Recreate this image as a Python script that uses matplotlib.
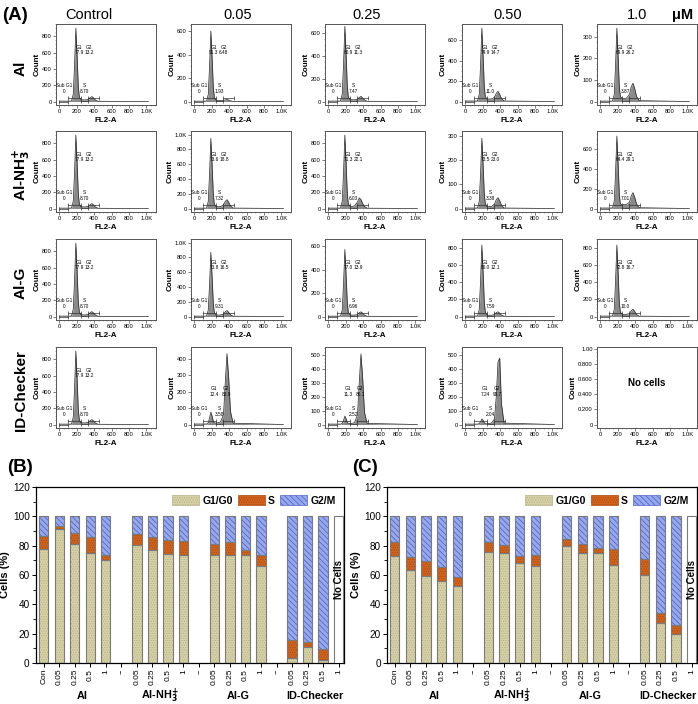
import numpy as np
import matplotlib
matplotlib.use('Agg')
import matplotlib.pyplot as plt
from matplotlib.patches import Patch
from matplotlib.ticker import MultipleLocator, AutoMinorLocator, FuncFormatter

W, H = 698, 704
plt.rcParams['font.family'] = ['Liberation Sans', 'DejaVu Sans']
plt.rcParams['hatch.linewidth'] = 0.6

# ---------------- (A) histogram data ----------------
ROW_NAMES = ['Al', 'Al-NH$_\\mathbf{3}^\\mathbf{+}$', 'Al-G', 'ID-Checker']
COL_NAMES = ['Control', '0.05', '0.25', '0.50', '1.0']

# FL2-A channel grid and counts
HIST_X = [0, 140, 160, 175, 190, 205, 218, 230, 250, 300, 335, 355, 375, 395, 415, 445, 1023]
CTRL = [5, 5, 90, 450, 900, 540, 180, 55, 20, 20, 25, 48, 60, 42, 18, 3, 0]
HIST_COUNTS = [
    [CTRL,
     [3, 3, 60, 300, 600, 360, 120, 36, 10, 8, 8, 14, 18, 12, 6, 1, 0],
     [4, 4, 66, 330, 660, 400, 130, 40, 15, 15, 20, 36, 45, 30, 14, 2, 0],
     [5, 5, 70, 360, 720, 430, 145, 45, 25, 25, 40, 80, 100, 70, 30, 5, 0],
     [2, 2, 34, 170, 340, 205, 70, 22, 15, 15, 34, 68, 85, 60, 25, 4, 0]],
    [CTRL,
     [5, 5, 95, 475, 950, 570, 190, 60, 25, 25, 48, 96, 120, 84, 36, 6, 0],
     [5, 5, 90, 450, 900, 540, 180, 55, 25, 30, 80, 130, 110, 60, 25, 4, 0],
     [2, 2, 29, 145, 290, 175, 58, 18, 8, 8, 18, 36, 45, 32, 14, 2, 0],
     [5, 5, 73, 365, 730, 440, 146, 45, 40, 40, 64, 128, 160, 112, 48, 8, 0]],
    [CTRL,
     [5, 5, 87, 435, 870, 520, 175, 52, 20, 20, 32, 64, 80, 56, 24, 4, 0],
     [3, 3, 57, 285, 570, 340, 115, 34, 12, 12, 16, 32, 40, 28, 12, 2, 0],
     [5, 5, 83, 415, 830, 500, 166, 50, 15, 15, 22, 44, 55, 38, 16, 3, 0],
     [5, 5, 83, 415, 830, 500, 166, 50, 25, 25, 34, 68, 85, 60, 25, 4, 0]],
    [CTRL,
     [3, 3, 10, 40, 75, 50, 20, 10, 8, 15, 60, 250, 430, 280, 80, 8, 0],
     [3, 3, 8, 30, 60, 40, 15, 8, 6, 12, 70, 300, 510, 330, 90, 8, 0],
     [3, 3, 6, 20, 40, 30, 12, 6, 5, 10, 40, 200, 450, 480, 150, 10, 0],
     None],
]
Y_TOP = [[950, 660, 680, 760, 360],
         [950, 1050, 950, 320, 780],
         [950, 1050, 660, 900, 900],
         [950, 470, 560, 560, 1.02]]
Y_STEP = [[200, 200, 200, 200, 100],
          [200, 200, 200, 100, 200],
          [200, 200, 200, 200, 200],
          [200, 100, 100, 100, 0.2]]

PCT_G1 = [['77.9', '91.3', '80.9', '74.9', '69.9'],
          ['77.9', '73.6', '71.3', '73.5', '64.4'],
          ['77.9', '73.8', '77.0', '80.0', '72.8'],
          ['77.9', '12.4', '11.3', '7.24', None]]
PCT_S = [['8.70', '1.93', '7.47', '11.0', '3.87'],
         ['8.70', '7.32', '6.03', '3.38', '7.01'],
         ['8.70', '9.31', '6.96', '7.59', '10.0'],
         ['8.70', '3.58', '2.52', '2.04', None]]
PCT_G2 = [['13.2', '6.48', '11.3', '14.7', '26.2'],
          ['13.2', '18.8', '22.1', '23.0', '29.1'],
          ['13.2', '16.5', '13.9', '12.1', '16.7'],
          ['13.2', '83.9', '86.1', '90.7', None]]

GATES = [(0, 100), (100, 250), (250, 330), (330, 460)]
GATE_Y = [0.04, 0.09, 0.05, 0.09]

# ---------------- (B)/(C) bar data ----------------
BAR_LABELS = ['Con', '0.05', '0.25', '0.5', '1', '--',
              '0.05', '0.25', '0.5', '1', '--',
              '0.05', '0.25', '0.5', '1', '--',
              '0.05', '0.25', '0.5', '1']
GROUPS = ['Al', 'Al-NH$_\\mathbf{3}^\\mathbf{+}$', 'Al-G', 'ID-Checker']
GROUP_POS = [2.5, 7.5, 12.5, 17.5]

G1_B = [77.9, 91.3, 80.9, 74.9, 69.9, None, 80.4, 77.1, 74.4, 73.6, None,
        73.8, 73.8, 73.8, 66.0, None, 3.3, 11.1, 1.8, None]
S_B = [8.7, 1.9, 7.5, 11.0, 3.9, None, 7.4, 9.1, 9.4, 9.7, None,
       7.3, 8.9, 3.5, 7.3, None, 12.7, 2.9, 7.5, None]
G2_B = [13.4, 6.8, 11.6, 14.1, 26.2, None, 12.2, 13.8, 16.2, 16.7, None,
        18.9, 17.3, 22.7, 26.7, None, 84.0, 86.0, 90.7, None]

G1_C = [72.9, 63.3, 59.1, 55.6, 52.4, None, 75.6, 75.1, 68.0, 65.8, None,
        80.0, 74.7, 74.7, 66.7, None, 60.0, 27.3, 20.0, None]
S_C = [9.5, 8.9, 10.2, 10.0, 6.0, None, 6.8, 5.3, 4.9, 7.8, None,
       4.7, 6.6, 3.7, 11.1, None, 11.1, 6.5, 5.8, None]
G2_C = [17.6, 27.8, 30.7, 34.4, 41.6, None, 17.6, 19.6, 27.1, 26.4, None,
        15.3, 18.7, 21.6, 22.2, None, 28.9, 66.2, 74.2, None]
NO_CELLS_POS = 19

PHASES = ['G1/G0', 'S', 'G2/M']
FACE = ['#d8d3a6', '#d2641c', '#96a9ee']
HATCH_COL = ['#b8b28a', '#b04c10', '#5466c8']
HATCHES = ['.......', '.......', '\\\\\\\\\\\\']


def px_box(x0, y0, w, h):
    return [x0 / W, 1 - (y0 + h) / H, w / W, h / H]


def count_fmt(v, _):
    if v >= 1000:
        return '1.0K'
    return f'{int(round(v))}'


def frac_fmt(v, _):
    if abs(v) < 1e-9:
        return '0'
    if abs(v - 1) < 1e-9:
        return '1.00'
    return f'{v:.3f}'


fig = plt.figure(figsize=(W / 100, H / 100), dpi=100)

COL_LEFT = [56, 191, 325, 462, 597]
ROW_TOP = [24, 131, 239, 347]
AX_W, AX_H = 100, 81

for r in range(4):
    for c in range(5):
        ax = fig.add_axes(px_box(COL_LEFT[c], ROW_TOP[r], AX_W, AX_H))
        top = Y_TOP[r][c]
        counts = HIST_COUNTS[r][c]
        ax.set_xlim(-38, 1110)
        ax.set_ylim(-0.045 * top, top)
        ax.xaxis.set_major_locator(MultipleLocator(200))
        ax.xaxis.set_minor_locator(AutoMinorLocator(4))
        ax.yaxis.set_major_locator(MultipleLocator(Y_STEP[r][c]))
        ax.yaxis.set_minor_locator(AutoMinorLocator(4))
        ax.xaxis.set_major_formatter(FuncFormatter(count_fmt))
        ax.yaxis.set_major_formatter(FuncFormatter(frac_fmt if counts is None else count_fmt))
        ax.tick_params(which='major', length=2, width=0.5, labelsize=4.2, pad=1, color='#444444')
        ax.tick_params(which='minor', length=1, width=0.4, color='#666666')
        for sp in ax.spines.values():
            sp.set_linewidth(0.7)
            sp.set_color('#555555')
        ax.set_xlabel('FL2-A', fontsize=5.8, fontweight='bold', labelpad=2)
        ax.set_ylabel('Count', fontsize=5.8, fontweight='bold', labelpad=1)

        if counts is None:
            ax.text(0.5, 0.55, 'No cells', transform=ax.transAxes, ha='center',
                    va='center', fontsize=7, fontweight='bold')
            continue

        ax.fill_between(HIST_X, counts, 0, color='#8a8a8a', lw=0)
        ax.plot(HIST_X, counts, color='#222222', lw=0.5)
        tr = ax.get_xaxis_transform()
        for (x0, x1), gy in zip(GATES, GATE_Y):
            ax.plot([x0, x1], [gy, gy], transform=tr, color='#333333', lw=0.5,
                    marker='|', ms=2.5, mew=0.5)

        id_row = r == 3 and c > 0
        upper = 0.45 if id_row else 0.68
        ax.text(60, 0.2, 'Sub G1\n0', transform=tr, fontsize=3.4, ha='center', va='center',
                linespacing=1.2)
        ax.text(290, 0.2, f'S\n{PCT_S[r][c]}', transform=tr, fontsize=3.4, ha='center',
                va='center', linespacing=1.2)
        ax.text(225, upper, f'G1\n{PCT_G1[r][c]}', transform=tr, fontsize=3.4, ha='center',
                va='center', linespacing=1.2)
        ax.text(365 if id_row else 340, upper, f'G2\n{PCT_G2[r][c]}',
                transform=tr, fontsize=3.4, ha='center', va='center', linespacing=1.2)

TITLE_X = [89, 238, 367, 508, 637]
for tx, name in zip(TITLE_X, COL_NAMES):
    fig.text(tx / W, 1 - 15 / H, name, ha='center', va='center', fontsize=10.5)
fig.text(683 / W, 1 - 15 / H, 'μM', ha='center', va='center', fontsize=10.5, fontweight='bold')
fig.text(15 / W, 1 - 15 / H, '(A)', ha='center', va='center', fontsize=13.5, fontweight='bold')

for r, name in enumerate(ROW_NAMES):
    fig.text(21 / W, 1 - (ROW_TOP[r] + 44) / H, name, rotation=90, ha='center',
             va='center', fontsize=11, fontweight='bold')


# ---------------- bar charts ----------------
BAR_TOP, BAR_H = 487, 176


def draw_bars(ax, g1, s, g2):
    segs = [g1, s, g2]
    bottoms = [0.0] * len(g1)
    for k, seg in enumerate(segs):
        xs, hs, bs = [], [], []
        for i, v in enumerate(seg):
            if v is None:
                continue
            xs.append(i)
            hs.append(v)
            bs.append(bottoms[i])
            bottoms[i] += v
        ax.bar(xs, hs, 0.6, bottom=bs, color=FACE[k], edgecolor=HATCH_COL[k],
               hatch=HATCHES[k], lw=0, zorder=2)
        ax.bar(xs, hs, 0.6, bottom=bs, fill=False, edgecolor='#7a7a7a', lw=0.8, zorder=3)
    ax.bar([NO_CELLS_POS], [100], 0.6, color='white', edgecolor='#7a7a7a', lw=0.8, zorder=3)
    ax.text(NO_CELLS_POS, 57, 'No Cells', rotation=90, ha='center', va='center',
            fontsize=7, fontweight='bold', zorder=4)

    ax.set_xlim(-0.5, 19.35)
    ax.set_ylim(0, 120)
    ax.set_xticks(range(len(BAR_LABELS)))
    ax.set_xticklabels(BAR_LABELS, rotation=90, fontsize=6.0)
    ax.yaxis.set_major_locator(MultipleLocator(20))
    ax.yaxis.set_minor_locator(MultipleLocator(10))
    ax.tick_params(axis='y', which='major', labelsize=7.2, length=3, width=0.7, pad=1.5)
    ax.tick_params(axis='y', which='minor', length=2, width=0.6)
    ax.tick_params(axis='x', length=3, width=0.7, pad=1.2)
    ax.set_ylabel('Cells (%)', fontsize=8, fontweight='bold', labelpad=2)
    for sp in ax.spines.values():
        sp.set_linewidth(0.9)
    tr = ax.get_xaxis_transform()
    for gx, gname in zip(GROUP_POS, GROUPS):
        ax.text(gx, -(699 - BAR_TOP - BAR_H) / BAR_H, gname, transform=tr, ha='center',
                va='baseline', fontsize=7.8, fontweight='bold')
    handles = [Patch(facecolor=FACE[k], edgecolor=HATCH_COL[k], hatch=HATCHES[k], lw=0.5)
               for k in range(3)]
    ax.legend(handles, PHASES, loc='upper right', ncol=3, frameon=False,
              prop={'size': 7.5, 'weight': 'bold'}, handlelength=2.6, handleheight=1.1,
              handletextpad=0.3, columnspacing=0.5, borderaxespad=0.4)


axB = fig.add_axes(px_box(36, BAR_TOP, 308, BAR_H))
draw_bars(axB, G1_B, S_B, G2_B)
axC = fig.add_axes(px_box(387, BAR_TOP, 310, BAR_H))
draw_bars(axC, G1_C, S_C, G2_C)
fig.text(20 / W, 1 - 467 / H, '(B)', ha='center', va='center', fontsize=13.5, fontweight='bold')
fig.text(365 / W, 1 - 467 / H, '(C)', ha='center', va='center', fontsize=13.5, fontweight='bold')

fig.savefig('out.png', dpi=100)
